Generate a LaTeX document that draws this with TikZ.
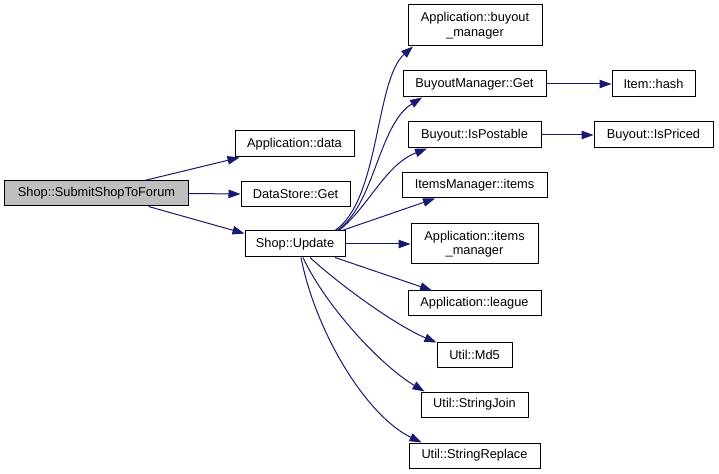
\documentclass[tikz,border=0pt]{standalone}
\usepackage{fontspec}
\setmainfont{Liberation Sans}
\usetikzlibrary{arrows.meta}
\definecolor{edgec}{HTML}{191970}
\definecolor{rootfill}{HTML}{BFBFBF}
\tikzset{
  fn/.style={draw=black, line width=1bp, fill=white, inner sep=0pt, align=center,
    font=\fontsize{12.8bp}{14.5bp}\selectfont},
  rootfn/.style={fn, fill=rootfill},
  call/.style={draw=edgec, line width=1bp, -{Triangle[length=12bp,width=8.5bp]}, fill=none},
}
\begin{document}
\begin{tikzpicture}[x=1bp,y=-1bp]
\useasboundingbox (0,0) rectangle (719,474);
\fill[white] (0,0) rectangle (719,474);

\node[rootfn, minimum width=183bp, minimum height=25bp] (submit) at (96.5,193.5) {Shop::SubmitShopToForum};
\node[fn, minimum width=119bp, minimum height=26bp] (appdata) at (294.5,144) {Application::data};
\node[fn, minimum width=109bp, minimum height=25bp] (dsget) at (295.5,194) {DataStore::Get};
\node[fn, minimum width=100bp, minimum height=26bp] (update) at (295,244) {Shop::Update};

\node[fn, minimum width=134bp, minimum height=41bp] (buyoutmgr) at (475,25.5) {Application::buyout\\\_manager};
\node[fn, minimum width=143bp, minimum height=26bp] (bmget) at (474.5,84) {BuyoutManager::Get};
\node[fn, minimum width=83bp, minimum height=26bp] (hash) at (653.5,84) {Item::hash};
\node[fn, minimum width=133bp, minimum height=26bp] (ispostable) at (474.5,135) {Buyout::IsPostable};
\node[fn, minimum width=119bp, minimum height=26bp] (ispriced) at (653.5,135) {Buyout::IsPriced};
\node[fn, minimum width=145bp, minimum height=25bp] (itemsmgr) at (474.5,185.5) {ItemsManager::items};
\node[fn, minimum width=127bp, minimum height=40bp] (appitems) at (474.5,244) {Application::items\\\_manager};
\node[fn, minimum width=133bp, minimum height=25bp] (league) at (474.5,303.5) {Application::league};
\node[fn, minimum width=75bp, minimum height=25bp] (md5) at (474.5,354.5) {Util::Md5};
\node[fn, minimum width=107bp, minimum height=25bp] (strjoin) at (474.5,404.5) {Util::StringJoin};
\node[fn, minimum width=131bp, minimum height=25bp] (strrepl) at (474.5,455.5) {Util::StringReplace};

% root calls
\draw[call] ([xshift=48bp]submit.north) -- ([xshift=-55bp]appdata.south);
\draw[call] (submit.east) -- (dsget.west);
\draw[call] ([xshift=52bp]submit.south) -- ([yshift=-3bp]update.north west);

% Shop::Update calls
\draw[call] ([xshift=40bp]update.north) .. controls (380,200) and (375,80) .. ([xshift=-62bp]buyoutmgr.south);
\draw[call] ([xshift=42bp]update.north) .. controls (375,205) and (378,125) .. ([xshift=-52.5bp]bmget.south);
\draw[call] ([xshift=44bp]update.north) .. controls (370,205) and (385,165) .. ([xshift=-47.5bp]ispostable.south);
\draw[call] ([xshift=47bp]update.north) -- ([xshift=-39.5bp]itemsmgr.south);
\draw[call] (update.east) -- (appitems.west);
\draw[call] ([xshift=40bp]update.south) -- ([xshift=-42.5bp]league.north);
\draw[call] ([xshift=15bp]update.south) .. controls (340,285) and (395,325) .. ([yshift=-1bp]md5.north west);
\draw[call] ([xshift=8bp]update.south) .. controls (325,305) and (380,365) .. ([xshift=4bp]strjoin.north west);
\draw[call] ([xshift=6bp]update.south) .. controls (315,330) and (365,415) .. ([xshift=13bp]strrepl.north west);

% second level
\draw[call] (bmget.east) -- (hash.west);
\draw[call] (ispostable.east) -- (ispriced.west);
\end{tikzpicture}
\end{document}
